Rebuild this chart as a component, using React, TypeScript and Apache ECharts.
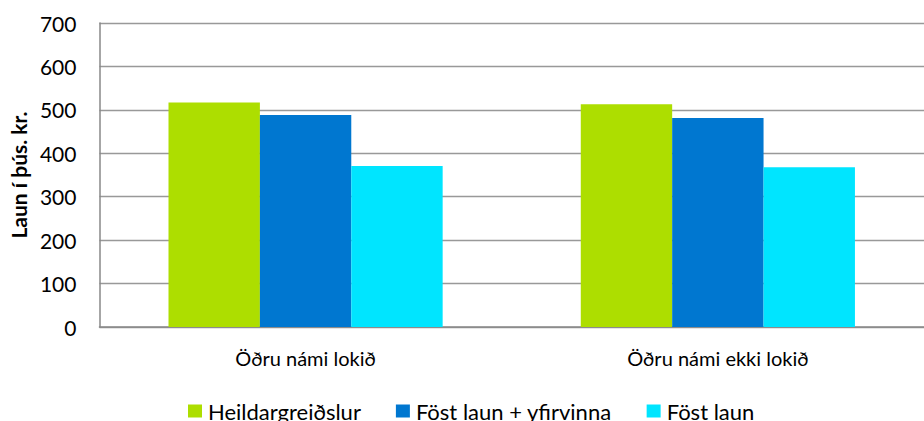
import React, { useEffect, useRef } from "react";
import * as echarts from "echarts";

const categories = ["Öðru námi lokið", "Öðru námi ekki lokið"];
const seriesNames = ["Heildargreiðslur", "Föst laun + yfirvinna", "Föst laun"];
const heildar = [517, 513];
const fastYfir = [488, 481];
const fastLaun = [371, 368];
const colors = ["#ADDE00", "#0077D0", "#00E5FF"];
const yTicks = { min: 0, max: 700, interval: 100 };

const FONT = "Lato, 'Open Sans', sans-serif";

export default function App() {
  const ref = useRef<HTMLDivElement>(null);
  useEffect(() => {
    if (!ref.current) return;
    const chart = echarts.init(ref.current, undefined, { renderer: "svg" });
    const values = [heildar, fastYfir, fastLaun];
    chart.setOption({
      animation: false,
      textStyle: { fontFamily: FONT },
      grid: { left: 98, right: -10, top: 23, bottom: 94, containLabel: false },
      legend: {
        top: 400,
        left: 188,
        padding: 0,
        itemWidth: 14,
        itemHeight: 13,
        itemGap: 35,
        icon: "rect",
        textStyle: { fontSize: 22, color: "#000", fontFamily: FONT, padding: [0, 0, 0, 1] },
        data: seriesNames,
      },
      xAxis: {
        type: "category",
        data: categories,
        axisLine: { lineStyle: { color: "#888", width: 1.5 } },
        axisTick: { show: false },
        axisLabel: { fontSize: 20, color: "#000", margin: 21, fontFamily: FONT },
      },
      yAxis: {
        type: "value",
        min: yTicks.min,
        max: yTicks.max,
        interval: yTicks.interval,
        name: "Laun í þús. kr.",
        nameLocation: "middle",
        nameGap: 66,
        nameRotate: 90,
        nameTextStyle: { fontSize: 21, fontWeight: "bold", color: "#000", fontFamily: FONT },
        axisLine: { show: true, lineStyle: { color: "#888", width: 1.5 } },
        axisTick: { show: false },
        splitLine: { lineStyle: { color: "#999", width: 1.3 } },
        axisLabel: { fontSize: 21, color: "#000", margin: 23, fontFamily: FONT },
      },
      series: seriesNames.map((name, i) => ({
        name,
        type: "bar",
        data: values[i],
        barGap: "0%",
        barCategoryGap: "33.5%",
        itemStyle: { color: colors[i] },
      })),
    });
    return () => chart.dispose();
  }, []);
  return <div ref={ref} style={{ width: 924, height: 421, position: "absolute", left: 0, top: 0 }} />;
}
